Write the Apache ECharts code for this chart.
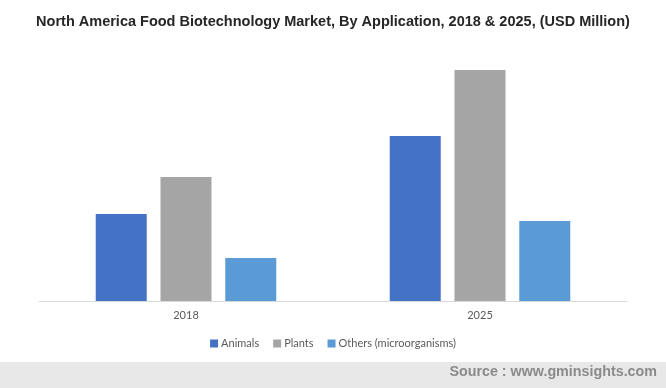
<!DOCTYPE html>
<html><head><meta charset="utf-8">
<script src="https://cdn.jsdelivr.net/npm/echarts@6/dist/echarts.min.js"></script>
<style>html,body{margin:0;padding:0;background:#fff}#c{width:666px;height:388px}</style>
</head><body><div id="c"></div>
<script>
const categories = ['2018', '2025'];
const animals = [87, 165];
const plants = [124, 231];
const others = [43, 80];
const seriesNames = ['Animals', 'Plants', 'Others (microorganisms)'];

const chart = echarts.init(document.getElementById('c'), null, {renderer: 'canvas'});
chart.setOption({
  backgroundColor: '#ffffff',
  animation: false,
  title: {
    text: 'North America Food Biotechnology Market, By Application, 2018 & 2025, (USD Million)',
    left: 'center', top: 9,
    textStyle: {fontFamily: 'Liberation Sans, Arial', fontWeight: 'bold', fontSize: 14.5, color: '#262626'}
  },
  legend: {
    data: seriesNames,
    top: 333, left: 'center',
    itemWidth: 8, itemHeight: 8, itemGap: 14,
    icon: 'rect',
    textStyle: {fontFamily: 'Lato', fontSize: 11, color: '#595959', padding: [0, 0, 0, -2]}
  },
  grid: {left: 39, right: 39, top: 51, bottom: 87},
  xAxis: {
    type: 'category', data: categories,
    axisLine: {lineStyle: {color: '#d9d9d9', width: 1}},
    axisTick: {show: false},
    axisLabel: {fontFamily: 'Lato', fontSize: 11, color: '#595959', margin: 9}
  },
  yAxis: {type: 'value', min: 0, max: 250, show: false, splitLine: {show: false}},
  series: [
    {name: seriesNames[0], type: 'bar', data: animals, barWidth: 51, barGap: '27%', itemStyle: {color: '#4472c4'}},
    {name: seriesNames[1], type: 'bar', data: plants, barWidth: 51, itemStyle: {color: '#a5a5a5'}},
    {name: seriesNames[2], type: 'bar', data: others, barWidth: 51, itemStyle: {color: '#5b9bd5'}}
  ],
  graphic: [
    {type: 'rect', left: 0, top: 362, shape: {width: 666, height: 26}, style: {fill: '#e8e8e8'}, z: -1},
    {type: 'text', right: 9, top: 365, style: {text: 'Source : www.gminsights.com', font: 'bold 14.3px "Liberation Sans", Arial', fill: '#8a8a8a'}}
  ]
});
</script></body></html>
